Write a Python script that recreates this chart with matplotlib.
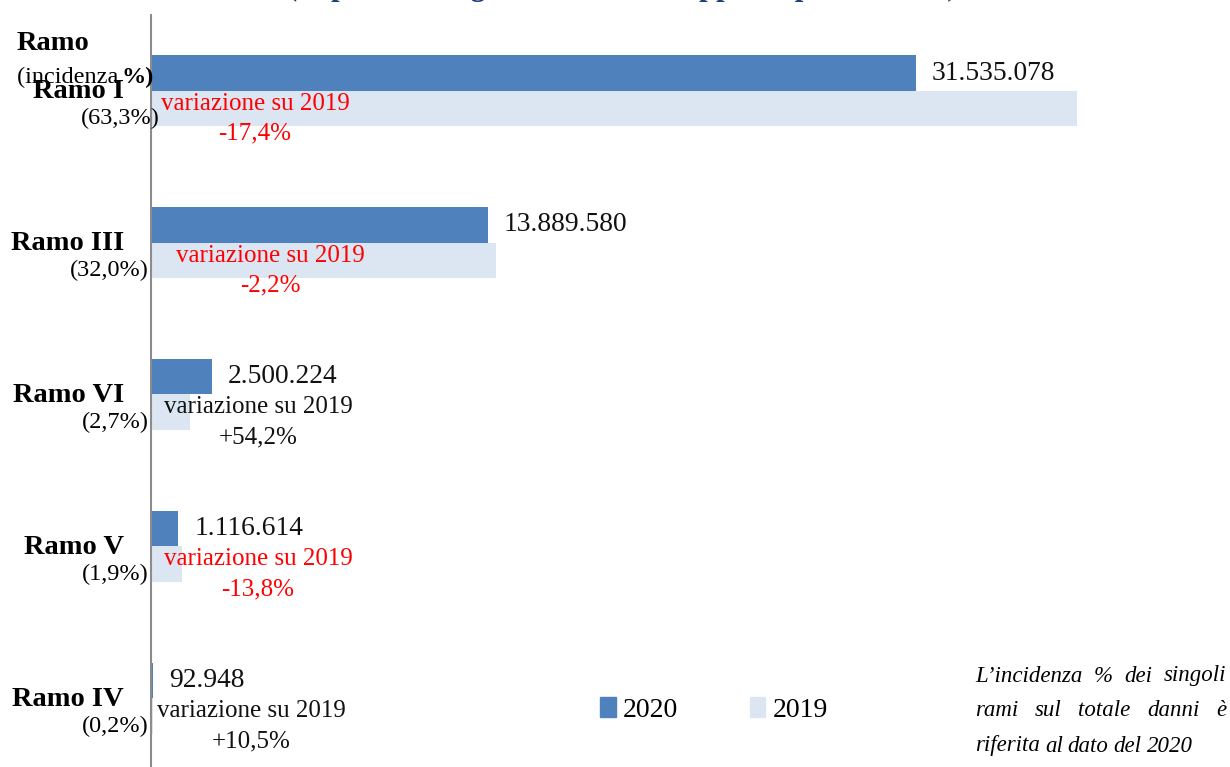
import matplotlib
matplotlib.use('Agg')
import matplotlib.pyplot as plt
from matplotlib.patches import Patch

plt.rcParams['font.family'] = ['Liberation Serif', 'DejaVu Serif']

# dati (importi come da grafico)
rami = ['Ramo I', 'Ramo III', 'Ramo VI', 'Ramo V', 'Ramo IV']
incidenza = ['(63,3%)', '(32,0%)', '(2,7%)', '(1,9%)', '(0,2%)']
valori_2020 = [31535078, 13889580, 2500224, 1116614, 92948]
valori_2019 = [38178060, 14202025, 1621416, 1295376, 84116]
variazioni = ['-17,4%', '-2,2%', '+54,2%', '-13,8%', '+10,5%']
etichette_2020 = ['31.535.078', '13.889.580', '2.500.224', '1.116.614', '92.948']

c2020 = '#4F81BD'
c2019 = '#DCE6F2'

W, H = 1230, 767
fig = plt.figure(figsize=(W / 100, H / 100), dpi=100)
ax = fig.add_axes([151 / W, 0, 1 - 151 / W, 1 - 15 / H])

scale = 1e6
y = list(range(len(rami)))
bh = 0.234
ax.barh([i - bh / 2 for i in y], [v / scale for v in valori_2020], height=bh, color=c2020)
ax.barh([i + bh / 2 for i in y], [v / scale for v in valori_2019], height=bh, color=c2019)

ax.set_xlim(0, 1079 / 24.26)
ax.set_ylim(4.454, -0.5)
for s in ['top', 'right', 'bottom']:
    ax.spines[s].set_visible(False)
ax.spines['left'].set_color('#8c8c8c')
ax.spines['left'].set_linewidth(1.5)
ax.set_xticks([])
ax.set_yticks([])

# etichette valori 2020
for i, (v, lab) in enumerate(zip(valori_2020, etichette_2020)):
    ax.annotate(lab, xy=(v / scale, i - bh / 2), xytext=(16, 0), textcoords='offset pixels',
                ha='left', va='center', fontsize=19.8, color='#111111')

# variazione su 2019
var_x = [104, 119, 107, 107, 100]
for i, (var, dx) in enumerate(zip(variazioni, var_x)):
    col = 'red' if var.startswith('-') else '#111111'
    ax.annotate('variazione su 2019', xy=(0, i), xytext=(dx, -13), textcoords='offset pixels',
                ha='center', va='center', fontsize=18, color=col)
    ax.annotate(var, xy=(0, i), xytext=(dx, -43), textcoords='offset pixels',
                ha='center', va='center', fontsize=18, color=col)

# nomi dei rami e incidenza
pct_right = [9, -2, -2, -2, -2]
for i in y:
    ax.annotate(rami[i], xy=(0, i), xytext=(-27, -1),
                textcoords='offset pixels', ha='right', va='center',
                fontsize=20.5, fontweight='bold', annotation_clip=False)
    ax.annotate(incidenza[i], xy=(0, i), xytext=(pct_right[i], -28),
                textcoords='offset pixels', ha='right', va='center',
                fontsize=17.5, annotation_clip=False)

fig.text(17 / W, 1 - 43 / H, 'Ramo', fontsize=20.5, fontweight='bold', ha='left', va='center')
t_inc = fig.text(17 / W, 1 - 77 / H, '(incidenza ', fontsize=17.5, ha='left', va='center')
renderer = fig.canvas.get_renderer()
w_inc = t_inc.get_window_extent(renderer).width
fig.text((17 + w_inc - 3) / W, 1 - 77 / H, '%)', fontsize=17.5, fontweight='bold',
         ha='left', va='center')

# titolo tagliato in alto
fig.text(622 / W, 1 + 5 / H, '(importi in migliaia di euro e rapporto percentuale)',
         fontsize=22, fontweight='bold', color='#1F3F7A', ha='center', va='baseline')

# legenda
handles = [Patch(color=c2020), Patch(color=c2019)]
fig.legend(handles, ['2020', '2019'], loc='center', bbox_to_anchor=(714 / W, 1 - 710 / H),
           ncol=2, frameon=False, fontsize=20, handlelength=0.55, handleheight=0.75,
           handletextpad=0.25, columnspacing=2.6)

# nota giustificata
nota = [['L’incidenza', '%', 'dei', 'singoli'],
        ['rami', 'sul', 'totale', 'danni', 'è'],
        ['riferita', 'al', 'dato', 'del', '2020']]
x0, x1 = 975, 1226
for li, words in enumerate(nota):
    yy = 1 - (676 + li * 35) / H
    arts = [fig.text(0, yy, w, fontsize=16.5, style='italic', ha='left', va='center') for w in words]
    widths = [a.get_window_extent(renderer).width for a in arts]
    if li < len(nota) - 1:
        gap = (x1 - x0 - sum(widths)) / (len(words) - 1)
    else:
        gap = 5
    xpos = x0
    for a, w in zip(arts, widths):
        a.set_x(xpos / W)
        xpos += w + gap

fig.savefig('out.png', dpi=100)
